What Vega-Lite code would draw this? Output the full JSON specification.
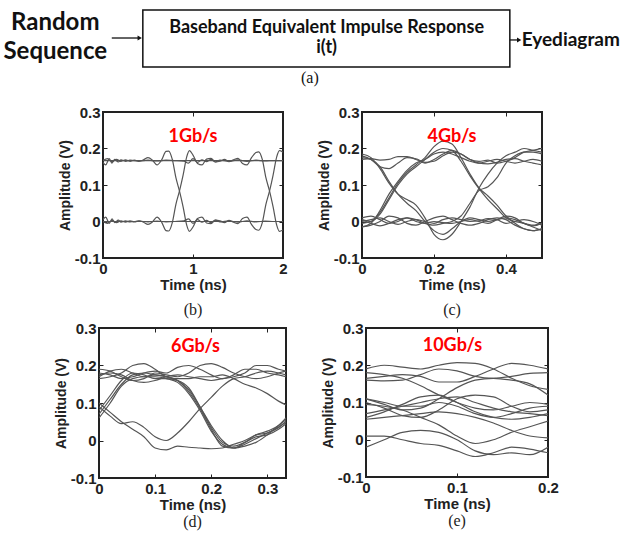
{
"$schema": "https://vega.github.io/schema/vega-lite/v6.json",
"padding": 0,
"background": "white",
"spacing": 1,
"config": {
 "view": {"stroke": "#222", "strokeWidth": 2},
 "axis": {"grid": false, "domain": false, "ticks": true, "tickSize": -4, "tickColor": "#222", "tickWidth": 1, "labelFont": "Liberation Sans", "labelFontSize": 15, "labelFontWeight": "bold", "labelColor": "#222", "labelPadding": 7, "titleFont": "Liberation Sans", "titleFontSize": 15, "titleFontWeight": "bold", "titleColor": "#222", "labelOverlap": false, "labelFlush": false, "tickCount": 10},
 "axisY": {"titleFontSize": 14, "titlePadding": 2},
 "axisX": {"titlePadding": 1},
 "title": {"font": "Liberation Serif", "fontSize": 16, "fontWeight": "normal", "color": "#222", "anchor": "middle"}
},
"datasets": {
 "b": [
{"s":"b1","t":0,"v":0.167},{"s":"b1","t":0.05,"v":0.172},{"s":"b1","t":0.1,"v":0.164},{"s":"b1","t":0.15,"v":0.170},{"s":"b1","t":0.2,"v":0.165},{"s":"b1","t":0.25,"v":0.169},{"s":"b1","t":0.3,"v":0.165},{"s":"b1","t":0.35,"v":0.168},{"s":"b1","t":0.4,"v":0.165},{"s":"b1","t":0.45,"v":0.169},{"s":"b1","t":0.5,"v":0.175},{"s":"b1","t":0.55,"v":0.168},{"s":"b1","t":0.6,"v":0.155},{"s":"b1","t":0.65,"v":0.168},{"s":"b1","t":0.7,"v":0.192},{"s":"b1","t":0.73,"v":0.193},{"s":"b1","t":0.77,"v":0.170},{"s":"b1","t":0.81,"v":0.120},{"s":"b1","t":0.85,"v":0.083},{"s":"b1","t":0.89,"v":0.040},{"s":"b1","t":0.93,"v":-0.010},{"s":"b1","t":0.96,"v":-0.027},{"s":"b1","t":1.0,"v":-0.015},{"s":"b1","t":1.05,"v":0.008},{"s":"b1","t":1.1,"v":0.012},{"s":"b1","t":1.15,"v":-0.004},{"s":"b1","t":1.2,"v":-0.006},{"s":"b1","t":1.25,"v":0.004},{"s":"b1","t":1.3,"v":0.002},{"s":"b1","t":1.35,"v":-0.003},{"s":"b1","t":1.4,"v":0.003},{"s":"b1","t":1.45,"v":-0.002},{"s":"b1","t":1.5,"v":-0.006},{"s":"b1","t":1.55,"v":0.008},{"s":"b1","t":1.6,"v":0.012},{"s":"b1","t":1.65,"v":-0.008},{"s":"b1","t":1.7,"v":-0.022},{"s":"b1","t":1.73,"v":-0.024},{"s":"b1","t":1.77,"v":-0.003},{"s":"b1","t":1.81,"v":0.047},{"s":"b1","t":1.85,"v":0.083},{"s":"b1","t":1.89,"v":0.127},{"s":"b1","t":1.93,"v":0.177},{"s":"b1","t":1.96,"v":0.194},{"s":"b1","t":2.0,"v":0.19},
{"s":"b2","t":0,"v":0.0},{"s":"b2","t":0.05,"v":-0.005},{"s":"b2","t":0.1,"v":0.003},{"s":"b2","t":0.15,"v":-0.003},{"s":"b2","t":0.2,"v":0.002},{"s":"b2","t":0.25,"v":-0.002},{"s":"b2","t":0.3,"v":0.002},{"s":"b2","t":0.35,"v":-0.001},{"s":"b2","t":0.4,"v":0.002},{"s":"b2","t":0.45,"v":-0.002},{"s":"b2","t":0.5,"v":-0.008},{"s":"b2","t":0.55,"v":-0.001},{"s":"b2","t":0.6,"v":0.012},{"s":"b2","t":0.65,"v":-0.001},{"s":"b2","t":0.7,"v":-0.025},{"s":"b2","t":0.73,"v":-0.026},{"s":"b2","t":0.77,"v":-0.003},{"s":"b2","t":0.81,"v":0.047},{"s":"b2","t":0.85,"v":0.084},{"s":"b2","t":0.89,"v":0.127},{"s":"b2","t":0.93,"v":0.177},{"s":"b2","t":0.96,"v":0.194},{"s":"b2","t":1.0,"v":0.182},{"s":"b2","t":1.05,"v":0.159},{"s":"b2","t":1.1,"v":0.155},{"s":"b2","t":1.15,"v":0.171},{"s":"b2","t":1.2,"v":0.173},{"s":"b2","t":1.25,"v":0.163},{"s":"b2","t":1.3,"v":0.165},{"s":"b2","t":1.35,"v":0.170},{"s":"b2","t":1.4,"v":0.164},{"s":"b2","t":1.45,"v":0.169},{"s":"b2","t":1.5,"v":0.173},{"s":"b2","t":1.55,"v":0.159},{"s":"b2","t":1.6,"v":0.155},{"s":"b2","t":1.65,"v":0.175},{"s":"b2","t":1.7,"v":0.189},{"s":"b2","t":1.73,"v":0.191},{"s":"b2","t":1.77,"v":0.170},{"s":"b2","t":1.81,"v":0.120},{"s":"b2","t":1.85,"v":0.084},{"s":"b2","t":1.89,"v":0.040},{"s":"b2","t":1.93,"v":-0.010},{"s":"b2","t":1.96,"v":-0.027},{"s":"b2","t":2.0,"v":-0.023},
{"s":"b3","t":0,"v":0.167},{"s":"b3","t":2,"v":0.167},
{"s":"b4","t":0,"v":0.0},{"s":"b4","t":2,"v":0.0},
{"s":"b5","t":0,"v":0.162},{"s":"b5","t":0.03,"v":0.155},{"s":"b5","t":0.07,"v":0.172},{"s":"b5","t":0.1,"v":0.160},{"s":"b5","t":0.13,"v":0.170},{"s":"b5","t":0.17,"v":0.163},{"s":"b5","t":0.2,"v":0.169},{"s":"b5","t":0.25,"v":0.165},{"s":"b5","t":0.3,"v":0.168},{"s":"b5","t":0.4,"v":0.166},{"s":"b5","t":0.5,"v":0.168},{"s":"b5","t":0.6,"v":0.166},{"s":"b5","t":0.7,"v":0.168},{"s":"b5","t":0.8,"v":0.167},{"s":"b5","t":0.9,"v":0.165},{"s":"b5","t":0.95,"v":0.160},{"s":"b5","t":1.0,"v":0.172},{"s":"b5","t":1.05,"v":0.162},{"s":"b5","t":1.1,"v":0.169},{"s":"b5","t":1.15,"v":0.164},{"s":"b5","t":1.2,"v":0.170},{"s":"b5","t":1.25,"v":0.163},{"s":"b5","t":1.3,"v":0.168},{"s":"b5","t":1.4,"v":0.165},{"s":"b5","t":1.5,"v":0.169},{"s":"b5","t":1.6,"v":0.165},{"s":"b5","t":1.7,"v":0.168},{"s":"b5","t":1.8,"v":0.166},{"s":"b5","t":1.9,"v":0.167},{"s":"b5","t":2.0,"v":0.167},
{"s":"b6","t":0,"v":0.005},{"s":"b6","t":0.03,"v":0.012},{"s":"b6","t":0.07,"v":-0.005},{"s":"b6","t":0.1,"v":0.007},{"s":"b6","t":0.13,"v":-0.003},{"s":"b6","t":0.17,"v":0.004},{"s":"b6","t":0.2,"v":-0.002},{"s":"b6","t":0.25,"v":0.002},{"s":"b6","t":0.3,"v":-0.001},{"s":"b6","t":0.4,"v":0.001},{"s":"b6","t":0.5,"v":-0.001},{"s":"b6","t":0.6,"v":0.001},{"s":"b6","t":0.7,"v":-0.001},{"s":"b6","t":0.8,"v":0.0},{"s":"b6","t":0.9,"v":0.002},{"s":"b6","t":0.95,"v":0.007},{"s":"b6","t":1.0,"v":-0.005},{"s":"b6","t":1.05,"v":0.005},{"s":"b6","t":1.1,"v":-0.002},{"s":"b6","t":1.15,"v":0.003},{"s":"b6","t":1.2,"v":-0.003},{"s":"b6","t":1.25,"v":0.004},{"s":"b6","t":1.3,"v":-0.001},{"s":"b6","t":1.4,"v":0.002},{"s":"b6","t":1.5,"v":-0.002},{"s":"b6","t":1.6,"v":0.002},{"s":"b6","t":1.7,"v":-0.001},{"s":"b6","t":1.8,"v":0.001},{"s":"b6","t":1.9,"v":0.0},{"s":"b6","t":2.0,"v":0.0}
 ],
 "c": [
{"s":"c1","t":0,"v":-0.005},{"s":"c1","t":0.025,"v":0.0},{"s":"c1","t":0.05,"v":0.025},{"s":"c1","t":0.075,"v":0.065},{"s":"c1","t":0.1,"v":0.105},{"s":"c1","t":0.125,"v":0.135},{"s":"c1","t":0.15,"v":0.155},{"s":"c1","t":0.175,"v":0.175},{"s":"c1","t":0.2,"v":0.205},{"s":"c1","t":0.225,"v":0.22},{"s":"c1","t":0.25,"v":0.212},{"s":"c1","t":0.275,"v":0.175},{"s":"c1","t":0.3,"v":0.13},{"s":"c1","t":0.325,"v":0.092},{"s":"c1","t":0.35,"v":0.07},{"s":"c1","t":0.375,"v":0.045},{"s":"c1","t":0.4,"v":0.015},{"s":"c1","t":0.425,"v":-0.005},{"s":"c1","t":0.45,"v":-0.02},{"s":"c1","t":0.475,"v":-0.025},{"s":"c1","t":0.5,"v":-0.02},
{"s":"c2","t":0,"v":0.005},{"s":"c2","t":0.025,"v":0.0},{"s":"c2","t":0.05,"v":0.02},{"s":"c2","t":0.075,"v":0.06},{"s":"c2","t":0.1,"v":0.1},{"s":"c2","t":0.125,"v":0.13},{"s":"c2","t":0.15,"v":0.15},{"s":"c2","t":0.175,"v":0.17},{"s":"c2","t":0.2,"v":0.19},{"s":"c2","t":0.225,"v":0.2},{"s":"c2","t":0.25,"v":0.195},{"s":"c2","t":0.275,"v":0.165},{"s":"c2","t":0.3,"v":0.125},{"s":"c2","t":0.325,"v":0.09},{"s":"c2","t":0.35,"v":0.06},{"s":"c2","t":0.375,"v":0.035},{"s":"c2","t":0.4,"v":0.01},{"s":"c2","t":0.425,"v":0.0},{"s":"c2","t":0.45,"v":-0.005},{"s":"c2","t":0.475,"v":-0.015},{"s":"c2","t":0.5,"v":-0.025},
{"s":"c3","t":0,"v":-0.015},{"s":"c3","t":0.025,"v":-0.005},{"s":"c3","t":0.05,"v":0.03},{"s":"c3","t":0.075,"v":0.075},{"s":"c3","t":0.1,"v":0.11},{"s":"c3","t":0.125,"v":0.14},{"s":"c3","t":0.15,"v":0.16},{"s":"c3","t":0.175,"v":0.17},{"s":"c3","t":0.2,"v":0.185},{"s":"c3","t":0.225,"v":0.19},{"s":"c3","t":0.25,"v":0.185},{"s":"c3","t":0.275,"v":0.175},{"s":"c3","t":0.3,"v":0.165},{"s":"c3","t":0.325,"v":0.16},{"s":"c3","t":0.35,"v":0.165},{"s":"c3","t":0.375,"v":0.17},{"s":"c3","t":0.4,"v":0.165},{"s":"c3","t":0.425,"v":0.16},{"s":"c3","t":0.45,"v":0.165},{"s":"c3","t":0.475,"v":0.17},{"s":"c3","t":0.5,"v":0.165},
{"s":"c4","t":0,"v":0.185},{"s":"c4","t":0.025,"v":0.175},{"s":"c4","t":0.05,"v":0.145},{"s":"c4","t":0.075,"v":0.105},{"s":"c4","t":0.1,"v":0.075},{"s":"c4","t":0.125,"v":0.06},{"s":"c4","t":0.15,"v":0.045},{"s":"c4","t":0.175,"v":0.01},{"s":"c4","t":0.2,"v":-0.035},{"s":"c4","t":0.225,"v":-0.05},{"s":"c4","t":0.25,"v":-0.035},{"s":"c4","t":0.275,"v":0.0},{"s":"c4","t":0.3,"v":0.04},{"s":"c4","t":0.325,"v":0.092},{"s":"c4","t":0.35,"v":0.13},{"s":"c4","t":0.375,"v":0.16},{"s":"c4","t":0.4,"v":0.18},{"s":"c4","t":0.425,"v":0.19},{"s":"c4","t":0.45,"v":0.2},{"s":"c4","t":0.475,"v":0.195},{"s":"c4","t":0.5,"v":0.19},
{"s":"c5","t":0,"v":0.175},{"s":"c5","t":0.025,"v":0.17},{"s":"c5","t":0.05,"v":0.15},{"s":"c5","t":0.075,"v":0.11},{"s":"c5","t":0.1,"v":0.075},{"s":"c5","t":0.125,"v":0.05},{"s":"c5","t":0.15,"v":0.03},{"s":"c5","t":0.175,"v":0.0},{"s":"c5","t":0.2,"v":-0.025},{"s":"c5","t":0.225,"v":-0.035},{"s":"c5","t":0.25,"v":-0.02},{"s":"c5","t":0.275,"v":0.0},{"s":"c5","t":0.3,"v":0.01},{"s":"c5","t":0.325,"v":0.005},{"s":"c5","t":0.35,"v":0.0},{"s":"c5","t":0.375,"v":0.005},{"s":"c5","t":0.4,"v":0.01},{"s":"c5","t":0.425,"v":0.005},{"s":"c5","t":0.45,"v":-0.005},{"s":"c5","t":0.475,"v":-0.01},{"s":"c5","t":0.5,"v":-0.005},
{"s":"c6","t":0,"v":0.18},{"s":"c6","t":0.025,"v":0.17},{"s":"c6","t":0.05,"v":0.15},{"s":"c6","t":0.075,"v":0.145},{"s":"c6","t":0.1,"v":0.16},{"s":"c6","t":0.125,"v":0.175},{"s":"c6","t":0.15,"v":0.172},{"s":"c6","t":0.175,"v":0.162},{"s":"c6","t":0.2,"v":0.165},{"s":"c6","t":0.225,"v":0.18},{"s":"c6","t":0.25,"v":0.19},{"s":"c6","t":0.275,"v":0.185},{"s":"c6","t":0.3,"v":0.17},{"s":"c6","t":0.325,"v":0.16},{"s":"c6","t":0.35,"v":0.158},{"s":"c6","t":0.375,"v":0.162},{"s":"c6","t":0.4,"v":0.17},{"s":"c6","t":0.425,"v":0.172},{"s":"c6","t":0.45,"v":0.165},{"s":"c6","t":0.475,"v":0.16},{"s":"c6","t":0.5,"v":0.155},
{"s":"c7","t":0,"v":0.17},{"s":"c7","t":0.025,"v":0.172},{"s":"c7","t":0.05,"v":0.168},{"s":"c7","t":0.075,"v":0.17},{"s":"c7","t":0.1,"v":0.178},{"s":"c7","t":0.125,"v":0.178},{"s":"c7","t":0.15,"v":0.17},{"s":"c7","t":0.175,"v":0.16},{"s":"c7","t":0.2,"v":0.17},{"s":"c7","t":0.225,"v":0.185},{"s":"c7","t":0.25,"v":0.195},{"s":"c7","t":0.275,"v":0.185},{"s":"c7","t":0.3,"v":0.17},{"s":"c7","t":0.325,"v":0.165},{"s":"c7","t":0.35,"v":0.168},{"s":"c7","t":0.375,"v":0.16},{"s":"c7","t":0.4,"v":0.165},{"s":"c7","t":0.425,"v":0.175},{"s":"c7","t":0.45,"v":0.19},{"s":"c7","t":0.475,"v":0.195},{"s":"c7","t":0.5,"v":0.2},
{"s":"c8","t":0,"v":0.0},{"s":"c8","t":0.025,"v":0.005},{"s":"c8","t":0.05,"v":0.01},{"s":"c8","t":0.075,"v":0.0},{"s":"c8","t":0.1,"v":-0.008},{"s":"c8","t":0.125,"v":0.0},{"s":"c8","t":0.15,"v":0.005},{"s":"c8","t":0.175,"v":0.0},{"s":"c8","t":0.2,"v":-0.005},{"s":"c8","t":0.225,"v":0.005},{"s":"c8","t":0.25,"v":0.01},{"s":"c8","t":0.275,"v":0.005},{"s":"c8","t":0.3,"v":0.0},{"s":"c8","t":0.325,"v":0.002},{"s":"c8","t":0.35,"v":0.008},{"s":"c8","t":0.375,"v":0.005},{"s":"c8","t":0.4,"v":-0.005},{"s":"c8","t":0.425,"v":0.0},{"s":"c8","t":0.45,"v":0.005},{"s":"c8","t":0.475,"v":0.0},{"s":"c8","t":0.5,"v":-0.01},
{"s":"c9","t":0,"v":-0.015},{"s":"c9","t":0.025,"v":-0.01},{"s":"c9","t":0.05,"v":0.0},{"s":"c9","t":0.075,"v":0.015},{"s":"c9","t":0.1,"v":0.01},{"s":"c9","t":0.125,"v":-0.005},{"s":"c9","t":0.15,"v":-0.01},{"s":"c9","t":0.175,"v":0.0},{"s":"c9","t":0.2,"v":0.01},{"s":"c9","t":0.225,"v":0.015},{"s":"c9","t":0.25,"v":0.005},{"s":"c9","t":0.275,"v":-0.005},{"s":"c9","t":0.3,"v":-0.01},{"s":"c9","t":0.325,"v":-0.005},{"s":"c9","t":0.35,"v":0.005},{"s":"c9","t":0.375,"v":0.01},{"s":"c9","t":0.4,"v":0.005},{"s":"c9","t":0.425,"v":-0.01},{"s":"c9","t":0.45,"v":-0.02},{"s":"c9","t":0.475,"v":-0.025},{"s":"c9","t":0.5,"v":-0.02},
{"s":"c10","t":0,"v":0.005},{"s":"c10","t":0.025,"v":-0.005},{"s":"c10","t":0.05,"v":-0.012},{"s":"c10","t":0.075,"v":-0.005},{"s":"c10","t":0.1,"v":0.005},{"s":"c10","t":0.125,"v":0.01},{"s":"c10","t":0.15,"v":0.0},{"s":"c10","t":0.175,"v":-0.005},{"s":"c10","t":0.2,"v":0.0},{"s":"c10","t":0.225,"v":-0.003},{"s":"c10","t":0.25,"v":-0.005},{"s":"c10","t":0.275,"v":0.0},{"s":"c10","t":0.3,"v":0.005},{"s":"c10","t":0.325,"v":0.0},{"s":"c10","t":0.35,"v":-0.005},{"s":"c10","t":0.375,"v":0.005},{"s":"c10","t":0.4,"v":0.015},{"s":"c10","t":0.425,"v":0.01},{"s":"c10","t":0.45,"v":-0.005},{"s":"c10","t":0.475,"v":-0.012},{"s":"c10","t":0.5,"v":-0.005},
{"s":"c11","t":0,"v":0.01},{"s":"c11","t":0.025,"v":0.015},{"s":"c11","t":0.05,"v":0.005},{"s":"c11","t":0.075,"v":-0.005},{"s":"c11","t":0.1,"v":0.0},{"s":"c11","t":0.125,"v":0.01},{"s":"c11","t":0.15,"v":0.005},{"s":"c11","t":0.175,"v":-0.005},{"s":"c11","t":0.2,"v":-0.01},{"s":"c11","t":0.225,"v":-0.005},{"s":"c11","t":0.25,"v":0.0},{"s":"c11","t":0.275,"v":0.015},{"s":"c11","t":0.3,"v":0.05},{"s":"c11","t":0.325,"v":0.085},{"s":"c11","t":0.35,"v":0.095},{"s":"c11","t":0.375,"v":0.12},{"s":"c11","t":0.4,"v":0.16},{"s":"c11","t":0.425,"v":0.18},{"s":"c11","t":0.45,"v":0.19},{"s":"c11","t":0.475,"v":0.19},{"s":"c11","t":0.5,"v":0.185}
 ],
 "d": [
{"s":"d1","t":0,"v":0.07},{"s":"d1","t":0.02,"v":0.11},{"s":"d1","t":0.04,"v":0.15},{"s":"d1","t":0.06,"v":0.175},{"s":"d1","t":0.08,"v":0.18},{"s":"d1","t":0.1,"v":0.175},{"s":"d1","t":0.12,"v":0.17},{"s":"d1","t":0.14,"v":0.16},{"s":"d1","t":0.16,"v":0.13},{"s":"d1","t":0.18,"v":0.085},{"s":"d1","t":0.2,"v":0.03},{"s":"d1","t":0.22,"v":-0.015},{"s":"d1","t":0.24,"v":-0.02},{"s":"d1","t":0.26,"v":-0.01},{"s":"d1","t":0.28,"v":0.005},{"s":"d1","t":0.3,"v":0.02},{"s":"d1","t":0.32,"v":0.035},{"s":"d1","t":0.3333,"v":0.05},
{"s":"d2","t":0,"v":0.06},{"s":"d2","t":0.02,"v":0.1},{"s":"d2","t":0.04,"v":0.145},{"s":"d2","t":0.06,"v":0.165},{"s":"d2","t":0.08,"v":0.17},{"s":"d2","t":0.1,"v":0.17},{"s":"d2","t":0.12,"v":0.165},{"s":"d2","t":0.14,"v":0.155},{"s":"d2","t":0.16,"v":0.125},{"s":"d2","t":0.18,"v":0.08},{"s":"d2","t":0.2,"v":0.025},{"s":"d2","t":0.22,"v":-0.01},{"s":"d2","t":0.24,"v":-0.02},{"s":"d2","t":0.26,"v":-0.005},{"s":"d2","t":0.28,"v":0.01},{"s":"d2","t":0.3,"v":0.015},{"s":"d2","t":0.32,"v":0.03},{"s":"d2","t":0.3333,"v":0.045},
{"s":"d3","t":0,"v":0.08},{"s":"d3","t":0.02,"v":0.12},{"s":"d3","t":0.04,"v":0.16},{"s":"d3","t":0.06,"v":0.18},{"s":"d3","t":0.08,"v":0.175},{"s":"d3","t":0.1,"v":0.165},{"s":"d3","t":0.12,"v":0.165},{"s":"d3","t":0.14,"v":0.16},{"s":"d3","t":0.16,"v":0.14},{"s":"d3","t":0.18,"v":0.09},{"s":"d3","t":0.2,"v":0.035},{"s":"d3","t":0.22,"v":-0.005},{"s":"d3","t":0.24,"v":-0.015},{"s":"d3","t":0.26,"v":-0.005},{"s":"d3","t":0.28,"v":0.015},{"s":"d3","t":0.3,"v":0.025},{"s":"d3","t":0.32,"v":0.04},{"s":"d3","t":0.3333,"v":0.06},
{"s":"d4","t":0,"v":0.17},{"s":"d4","t":0.02,"v":0.185},{"s":"d4","t":0.04,"v":0.19},{"s":"d4","t":0.06,"v":0.18},{"s":"d4","t":0.08,"v":0.17},{"s":"d4","t":0.1,"v":0.175},{"s":"d4","t":0.12,"v":0.17},{"s":"d4","t":0.14,"v":0.16},{"s":"d4","t":0.16,"v":0.135},{"s":"d4","t":0.18,"v":0.09},{"s":"d4","t":0.2,"v":0.04},{"s":"d4","t":0.22,"v":0.0},{"s":"d4","t":0.24,"v":-0.02},{"s":"d4","t":0.26,"v":-0.015},{"s":"d4","t":0.28,"v":-0.005},{"s":"d4","t":0.3,"v":0.015},{"s":"d4","t":0.32,"v":0.04},{"s":"d4","t":0.3333,"v":0.055},
{"s":"d5","t":0,"v":0.09},{"s":"d5","t":0.02,"v":0.065},{"s":"d5","t":0.04,"v":0.045},{"s":"d5","t":0.06,"v":0.05},{"s":"d5","t":0.08,"v":0.035},{"s":"d5","t":0.1,"v":0.01},{"s":"d5","t":0.12,"v":0.0},{"s":"d5","t":0.14,"v":0.02},{"s":"d5","t":0.16,"v":0.05},{"s":"d5","t":0.18,"v":0.085},{"s":"d5","t":0.2,"v":0.115},{"s":"d5","t":0.22,"v":0.145},{"s":"d5","t":0.24,"v":0.165},{"s":"d5","t":0.26,"v":0.17},{"s":"d5","t":0.28,"v":0.18},{"s":"d5","t":0.3,"v":0.185},{"s":"d5","t":0.32,"v":0.18},{"s":"d5","t":0.3333,"v":0.175},
{"s":"d6","t":0,"v":0.1},{"s":"d6","t":0.02,"v":0.075},{"s":"d6","t":0.04,"v":0.05},{"s":"d6","t":0.06,"v":0.03},{"s":"d6","t":0.08,"v":0.01},{"s":"d6","t":0.1,"v":-0.02},{"s":"d6","t":0.12,"v":-0.025},{"s":"d6","t":0.14,"v":-0.015},{"s":"d6","t":0.16,"v":-0.018},{"s":"d6","t":0.18,"v":-0.02},{"s":"d6","t":0.2,"v":-0.022},{"s":"d6","t":0.22,"v":-0.02},{"s":"d6","t":0.24,"v":-0.01},{"s":"d6","t":0.26,"v":0.0},{"s":"d6","t":0.28,"v":0.015},{"s":"d6","t":0.3,"v":0.02},{"s":"d6","t":0.32,"v":0.035},{"s":"d6","t":0.3333,"v":0.05},
{"s":"d7","t":0,"v":0.19},{"s":"d7","t":0.02,"v":0.185},{"s":"d7","t":0.04,"v":0.17},{"s":"d7","t":0.06,"v":0.16},{"s":"d7","t":0.08,"v":0.165},{"s":"d7","t":0.1,"v":0.18},{"s":"d7","t":0.12,"v":0.175},{"s":"d7","t":0.14,"v":0.17},{"s":"d7","t":0.16,"v":0.18},{"s":"d7","t":0.18,"v":0.2},{"s":"d7","t":0.2,"v":0.205},{"s":"d7","t":0.22,"v":0.195},{"s":"d7","t":0.24,"v":0.18},{"s":"d7","t":0.26,"v":0.17},{"s":"d7","t":0.28,"v":0.165},{"s":"d7","t":0.3,"v":0.17},{"s":"d7","t":0.32,"v":0.18},{"s":"d7","t":0.3333,"v":0.185},
{"s":"d8","t":0,"v":0.18},{"s":"d8","t":0.02,"v":0.175},{"s":"d8","t":0.04,"v":0.165},{"s":"d8","t":0.06,"v":0.17},{"s":"d8","t":0.08,"v":0.18},{"s":"d8","t":0.1,"v":0.185},{"s":"d8","t":0.12,"v":0.18},{"s":"d8","t":0.14,"v":0.195},{"s":"d8","t":0.16,"v":0.2},{"s":"d8","t":0.18,"v":0.19},{"s":"d8","t":0.2,"v":0.175},{"s":"d8","t":0.22,"v":0.165},{"s":"d8","t":0.24,"v":0.175},{"s":"d8","t":0.26,"v":0.19},{"s":"d8","t":0.28,"v":0.19},{"s":"d8","t":0.3,"v":0.18},{"s":"d8","t":0.32,"v":0.175},{"s":"d8","t":0.3333,"v":0.17},
{"s":"d9","t":0,"v":0.165},{"s":"d9","t":0.02,"v":0.17},{"s":"d9","t":0.04,"v":0.18},{"s":"d9","t":0.06,"v":0.2},{"s":"d9","t":0.08,"v":0.205},{"s":"d9","t":0.1,"v":0.19},{"s":"d9","t":0.12,"v":0.17},{"s":"d9","t":0.14,"v":0.165},{"s":"d9","t":0.16,"v":0.165},{"s":"d9","t":0.18,"v":0.17},{"s":"d9","t":0.2,"v":0.17},{"s":"d9","t":0.22,"v":0.175},{"s":"d9","t":0.24,"v":0.165},{"s":"d9","t":0.26,"v":0.15},{"s":"d9","t":0.28,"v":0.14},{"s":"d9","t":0.3,"v":0.125},{"s":"d9","t":0.32,"v":0.105},{"s":"d9","t":0.3333,"v":0.095},
{"s":"d10","t":0,"v":0.175},{"s":"d10","t":0.02,"v":0.18},{"s":"d10","t":0.04,"v":0.175},{"s":"d10","t":0.06,"v":0.16},{"s":"d10","t":0.08,"v":0.155},{"s":"d10","t":0.1,"v":0.16},{"s":"d10","t":0.12,"v":0.17},{"s":"d10","t":0.14,"v":0.175},{"s":"d10","t":0.16,"v":0.17},{"s":"d10","t":0.18,"v":0.165},{"s":"d10","t":0.2,"v":0.16},{"s":"d10","t":0.22,"v":0.165},{"s":"d10","t":0.24,"v":0.17},{"s":"d10","t":0.26,"v":0.18},{"s":"d10","t":0.28,"v":0.2},{"s":"d10","t":0.3,"v":0.2},{"s":"d10","t":0.32,"v":0.19},{"s":"d10","t":0.3333,"v":0.185}
 ],
 "e": [
{"s":"e1","t":0,"v":0.19},{"s":"e1","t":0.02,"v":0.2},{"s":"e1","t":0.04,"v":0.195},{"s":"e1","t":0.06,"v":0.19},{"s":"e1","t":0.08,"v":0.2},{"s":"e1","t":0.1,"v":0.207},{"s":"e1","t":0.12,"v":0.205},{"s":"e1","t":0.14,"v":0.19},{"s":"e1","t":0.16,"v":0.165},{"s":"e1","t":0.18,"v":0.145},{"s":"e1","t":0.2,"v":0.135},
{"s":"e2","t":0,"v":0.18},{"s":"e2","t":0.02,"v":0.175},{"s":"e2","t":0.04,"v":0.165},{"s":"e2","t":0.06,"v":0.145},{"s":"e2","t":0.08,"v":0.12},{"s":"e2","t":0.1,"v":0.1},{"s":"e2","t":0.12,"v":0.085},{"s":"e2","t":0.14,"v":0.08},{"s":"e2","t":0.16,"v":0.09},{"s":"e2","t":0.18,"v":0.1},{"s":"e2","t":0.2,"v":0.095},
{"s":"e3","t":0,"v":0.16},{"s":"e3","t":0.02,"v":0.158},{"s":"e3","t":0.04,"v":0.16},{"s":"e3","t":0.06,"v":0.175},{"s":"e3","t":0.08,"v":0.19},{"s":"e3","t":0.1,"v":0.185},{"s":"e3","t":0.12,"v":0.17},{"s":"e3","t":0.14,"v":0.165},{"s":"e3","t":0.16,"v":0.17},{"s":"e3","t":0.18,"v":0.178},{"s":"e3","t":0.2,"v":0.18},
{"s":"e4","t":0,"v":0.165},{"s":"e4","t":0.02,"v":0.17},{"s":"e4","t":0.04,"v":0.175},{"s":"e4","t":0.06,"v":0.17},{"s":"e4","t":0.08,"v":0.155},{"s":"e4","t":0.1,"v":0.155},{"s":"e4","t":0.12,"v":0.17},{"s":"e4","t":0.14,"v":0.19},{"s":"e4","t":0.16,"v":0.205},{"s":"e4","t":0.18,"v":0.2},{"s":"e4","t":0.2,"v":0.19},
{"s":"e5","t":0,"v":0.11},{"s":"e5","t":0.02,"v":0.095},{"s":"e5","t":0.04,"v":0.08},{"s":"e5","t":0.06,"v":0.085},{"s":"e5","t":0.08,"v":0.11},{"s":"e5","t":0.1,"v":0.14},{"s":"e5","t":0.12,"v":0.16},{"s":"e5","t":0.14,"v":0.165},{"s":"e5","t":0.16,"v":0.16},{"s":"e5","t":0.18,"v":0.15},{"s":"e5","t":0.2,"v":0.12},
{"s":"e6","t":0,"v":0.1},{"s":"e6","t":0.02,"v":0.085},{"s":"e6","t":0.04,"v":0.065},{"s":"e6","t":0.06,"v":0.06},{"s":"e6","t":0.08,"v":0.08},{"s":"e6","t":0.1,"v":0.11},{"s":"e6","t":0.12,"v":0.12},{"s":"e6","t":0.14,"v":0.115},{"s":"e6","t":0.16,"v":0.09},{"s":"e6","t":0.18,"v":0.075},{"s":"e6","t":0.2,"v":0.08},
{"s":"e7","t":0,"v":0.07},{"s":"e7","t":0.02,"v":0.08},{"s":"e7","t":0.04,"v":0.09},{"s":"e7","t":0.06,"v":0.1},{"s":"e7","t":0.08,"v":0.11},{"s":"e7","t":0.1,"v":0.115},{"s":"e7","t":0.12,"v":0.1},{"s":"e7","t":0.14,"v":0.085},{"s":"e7","t":0.16,"v":0.075},{"s":"e7","t":0.18,"v":0.07},{"s":"e7","t":0.2,"v":0.065},
{"s":"e8","t":0,"v":0.06},{"s":"e8","t":0.02,"v":0.075},{"s":"e8","t":0.04,"v":0.095},{"s":"e8","t":0.06,"v":0.115},{"s":"e8","t":0.08,"v":0.12},{"s":"e8","t":0.1,"v":0.1},{"s":"e8","t":0.12,"v":0.075},{"s":"e8","t":0.14,"v":0.06},{"s":"e8","t":0.16,"v":0.055},{"s":"e8","t":0.18,"v":0.06},{"s":"e8","t":0.2,"v":0.07},
{"s":"e9","t":0,"v":0.055},{"s":"e9","t":0.02,"v":0.06},{"s":"e9","t":0.04,"v":0.065},{"s":"e9","t":0.06,"v":0.07},{"s":"e9","t":0.08,"v":0.075},{"s":"e9","t":0.1,"v":0.07},{"s":"e9","t":0.12,"v":0.06},{"s":"e9","t":0.14,"v":0.045},{"s":"e9","t":0.16,"v":0.025},{"s":"e9","t":0.18,"v":0.01},{"s":"e9","t":0.2,"v":0.005},
{"s":"e10","t":0,"v":0.01},{"s":"e10","t":0.02,"v":0.01},{"s":"e10","t":0.04,"v":0.0},{"s":"e10","t":0.06,"v":-0.01},{"s":"e10","t":0.08,"v":-0.015},{"s":"e10","t":0.1,"v":-0.03},{"s":"e10","t":0.12,"v":-0.045},{"s":"e10","t":0.14,"v":-0.035},{"s":"e10","t":0.16,"v":-0.02},{"s":"e10","t":0.18,"v":-0.025},{"s":"e10","t":0.2,"v":-0.035},
{"s":"e11","t":0,"v":-0.02},{"s":"e11","t":0.02,"v":0.0},{"s":"e11","t":0.04,"v":0.02},{"s":"e11","t":0.06,"v":0.025},{"s":"e11","t":0.08,"v":0.02},{"s":"e11","t":0.1,"v":0.0},{"s":"e11","t":0.12,"v":-0.03},{"s":"e11","t":0.14,"v":-0.04},{"s":"e11","t":0.16,"v":-0.035},{"s":"e11","t":0.18,"v":-0.04},{"s":"e11","t":0.2,"v":-0.02},
{"s":"e12","t":0,"v":0.095},{"s":"e12","t":0.02,"v":0.09},{"s":"e12","t":0.04,"v":0.08},{"s":"e12","t":0.06,"v":0.06},{"s":"e12","t":0.08,"v":0.04},{"s":"e12","t":0.1,"v":0.01},{"s":"e12","t":0.12,"v":-0.01},{"s":"e12","t":0.14,"v":0.0},{"s":"e12","t":0.16,"v":0.02},{"s":"e12","t":0.18,"v":0.035},{"s":"e12","t":0.2,"v":0.05},
{"s":"e13","t":0,"v":0.11},{"s":"e13","t":0.02,"v":0.1},{"s":"e13","t":0.04,"v":0.09},{"s":"e13","t":0.06,"v":0.09},{"s":"e13","t":0.08,"v":0.1},{"s":"e13","t":0.1,"v":0.09},{"s":"e13","t":0.12,"v":0.07},{"s":"e13","t":0.14,"v":0.06},{"s":"e13","t":0.16,"v":0.07},{"s":"e13","t":0.18,"v":0.085},{"s":"e13","t":0.2,"v":0.09}
 ]
},
"vconcat": [
 {
  "width": 621, "height": 103,
  "view": {"stroke": null},
  "layer": [
   {"data": {"values": [{"x": 23.0, "x2": 82.1, "y": 9.7, "y2": 65.0}]},
    "mark": {"type": "rect", "fillOpacity": 0, "stroke": "#111", "strokeWidth": 1.5},
    "encoding": {"x": {"field": "x", "type": "quantitative", "scale": {"domain": [0, 100], "nice": false, "zero": false}, "axis": null}, "x2": {"field": "x2"},
                 "y": {"field": "y", "type": "quantitative", "scale": {"domain": [0, 100], "reverse": true, "nice": false, "zero": false}, "axis": null}, "y2": {"field": "y2"}}},
   {"data": {"values": [{"x": 18.0, "x2": 22.4, "y": 36.9}, {"x": 82.1, "x2": 83.5, "y": 38.8}]},
    "mark": {"type": "rule", "color": "#111", "strokeWidth": 1.3},
    "encoding": {"x": {"field": "x", "type": "quantitative"}, "x2": {"field": "x2"}, "y": {"field": "y", "type": "quantitative"}}},
   {"data": {"values": [{"x": 22.5, "y": 36.9}, {"x": 83.6, "y": 38.8}]},
    "mark": {"type": "point", "shape": "triangle-right", "filled": true, "size": 25, "color": "#111", "opacity": 1},
    "encoding": {"x": {"field": "x", "type": "quantitative"}, "y": {"field": "y", "type": "quantitative"}}},
   {"data": {"values": [{"x": 8.9, "y": 22.5, "s": "Random"}, {"x": 8.9, "y": 50.3, "s": "Sequence"}]},
    "mark": {"type": "text", "font": "Lato", "fontSize": 24, "fontWeight": "bold", "color": "#111", "align": "center", "baseline": "middle"},
    "encoding": {"x": {"field": "x", "type": "quantitative"}, "y": {"field": "y", "type": "quantitative"}, "text": {"field": "s"}}},
   {"data": {"values": [{"x": 84.0, "y": 38.8, "s": "Eyediagram"}]},
    "mark": {"type": "text", "font": "Lato", "fontSize": 19, "fontWeight": "bold", "color": "#111", "align": "left", "baseline": "middle"},
    "encoding": {"x": {"field": "x", "type": "quantitative"}, "y": {"field": "y", "type": "quantitative"}, "text": {"field": "s"}}},
   {"data": {"values": [{"x": 52.6, "y": 27.2, "s": "Baseband Equivalent Impulse Response"}, {"x": 52.6, "y": 46.6, "s": "i(t)"}]},
    "mark": {"type": "text", "font": "Lato", "fontSize": 18, "fontWeight": "bold", "color": "#111", "align": "center", "baseline": "middle"},
    "encoding": {"x": {"field": "x", "type": "quantitative"}, "y": {"field": "y", "type": "quantitative"}, "text": {"field": "s"}}},
   {"data": {"values": [{"x": 49.9, "y": 75.7, "s": "(a)"}]},
    "mark": {"type": "text", "font": "Liberation Serif", "fontSize": 16, "color": "#111", "align": "center", "baseline": "middle"},
    "encoding": {"x": {"field": "x", "type": "quantitative"}, "y": {"field": "y", "type": "quantitative"}, "text": {"field": "s"}}}
  ]
 },
 {
  "spacing": 27,
  "hconcat": [
   {"width": 30, "height": 10, "view": {"stroke": null}, "data": {"values": [{"k": 1}]}, "mark": {"type": "text", "text": ""}},
   {
    "width": 180, "height": 146,
    "title": {"text": "(b)", "orient": "bottom", "offset": 10},
    "resolve": {"axis": {"x": "independent", "y": "independent"}},
    "layer": [
     {"data": {"name": "b"}, "mark": {"type": "line", "interpolate": "monotone", "color": "#555", "strokeWidth": 1.2, "clip": true},
      "encoding": {"x": {"field": "t", "type": "quantitative", "scale": {"domain": [0, 2], "nice": false, "zero": false}, "axis": {"values": [0, 1, 2], "title": "Time (ns)", "labelExpr": "'' + datum.value"}},
                   "y": {"field": "v", "type": "quantitative", "scale": {"domain": [-0.1, 0.3], "nice": false, "zero": false}, "axis": {"values": [-0.1, 0, 0.1, 0.2, 0.3], "title": "Amplitude (V)", "labelExpr": "'' + datum.value"}},
                   "detail": {"field": "s"}}},
     {"data": {"values": [{"t": 1.0, "v": 0.232, "s": "1Gb/s"}]}, "mark": {"type": "text", "color": "#ff0000", "font": "Lato", "fontSize": 18, "fontWeight": "bold"},
      "encoding": {"x": {"field": "t", "type": "quantitative", "axis": {"orient": "top", "values": [0, 1, 2], "labels": false, "title": null}}, "y": {"field": "v", "type": "quantitative", "axis": {"orient": "right", "values": [-0.1, 0, 0.1, 0.2, 0.3], "labels": false, "title": null}}, "text": {"field": "s"}}}
    ]
   },
   {
    "width": 180, "height": 146,
    "title": {"text": "(c)", "orient": "bottom", "offset": 10},
    "resolve": {"axis": {"x": "independent", "y": "independent"}},
    "layer": [
     {"data": {"name": "c"}, "mark": {"type": "line", "interpolate": "monotone", "color": "#555", "strokeWidth": 1.2, "clip": true},
      "encoding": {"x": {"field": "t", "type": "quantitative", "scale": {"domain": [0, 0.5], "nice": false, "zero": false}, "axis": {"values": [0, 0.2, 0.4], "title": "Time (ns)", "labelExpr": "'' + datum.value"}},
                   "y": {"field": "v", "type": "quantitative", "scale": {"domain": [-0.1, 0.3], "nice": false, "zero": false}, "axis": {"values": [-0.1, 0, 0.1, 0.2, 0.3], "title": "Amplitude (V)", "labelExpr": "'' + datum.value"}},
                   "detail": {"field": "s"}}},
     {"data": {"values": [{"t": 0.25, "v": 0.232, "s": "4Gb/s"}]}, "mark": {"type": "text", "color": "#ff0000", "font": "Lato", "fontSize": 18, "fontWeight": "bold"},
      "encoding": {"x": {"field": "t", "type": "quantitative", "axis": {"orient": "top", "values": [0, 0.2, 0.4], "labels": false, "title": null}}, "y": {"field": "v", "type": "quantitative", "axis": {"orient": "right", "values": [-0.1, 0, 0.1, 0.2, 0.3], "labels": false, "title": null}}, "text": {"field": "s"}}}
    ]
   }
  ]
 },
 {
  "spacing": 32,
  "hconcat": [
   {"width": 21, "height": 10, "view": {"stroke": null}, "data": {"values": [{"k": 1}]}, "mark": {"type": "text", "text": ""}},
   {
    "width": 187, "height": 150,
    "title": {"text": "(d)", "orient": "bottom", "offset": 2},
    "resolve": {"axis": {"x": "independent", "y": "independent"}},
    "layer": [
     {"data": {"name": "d"}, "mark": {"type": "line", "interpolate": "monotone", "color": "#555", "strokeWidth": 1.2, "clip": true},
      "encoding": {"x": {"field": "t", "type": "quantitative", "scale": {"domain": [0, 0.3333], "nice": false, "zero": false}, "axis": {"values": [0, 0.1, 0.2, 0.3], "title": "Time (ns)", "labelExpr": "'' + datum.value"}},
                   "y": {"field": "v", "type": "quantitative", "scale": {"domain": [-0.1, 0.3], "nice": false, "zero": false}, "axis": {"values": [-0.1, 0, 0.1, 0.2, 0.3], "title": "Amplitude (V)", "labelExpr": "'' + datum.value"}},
                   "detail": {"field": "s"}}},
     {"data": {"values": [{"t": 0.172, "v": 0.25, "s": "6Gb/s"}]}, "mark": {"type": "text", "color": "#ff0000", "font": "Lato", "fontSize": 18, "fontWeight": "bold"},
      "encoding": {"x": {"field": "t", "type": "quantitative", "axis": {"orient": "top", "values": [0, 0.1, 0.2, 0.3], "labels": false, "title": null}}, "y": {"field": "v", "type": "quantitative", "axis": {"orient": "right", "values": [-0.1, 0, 0.1, 0.2, 0.3], "labels": false, "title": null}}, "text": {"field": "s"}}}
    ]
   },
   {
    "width": 182, "height": 149,
    "title": {"text": "(e)", "orient": "bottom", "offset": 2},
    "resolve": {"axis": {"x": "independent", "y": "independent"}},
    "layer": [
     {"data": {"name": "e"}, "mark": {"type": "line", "interpolate": "monotone", "color": "#555", "strokeWidth": 1.2, "clip": true},
      "encoding": {"x": {"field": "t", "type": "quantitative", "scale": {"domain": [0, 0.2], "nice": false, "zero": false}, "axis": {"values": [0, 0.1, 0.2], "title": "Time (ns)", "labelExpr": "'' + datum.value"}},
                   "y": {"field": "v", "type": "quantitative", "scale": {"domain": [-0.1, 0.3], "nice": false, "zero": false}, "axis": {"values": [-0.1, 0, 0.1, 0.2, 0.3], "title": "Amplitude (V)", "labelExpr": "'' + datum.value"}},
                   "detail": {"field": "s"}}},
     {"data": {"values": [{"t": 0.095, "v": 0.252, "s": "10Gb/s"}]}, "mark": {"type": "text", "color": "#ff0000", "font": "Lato", "fontSize": 18, "fontWeight": "bold"},
      "encoding": {"x": {"field": "t", "type": "quantitative", "axis": {"orient": "top", "values": [0, 0.1, 0.2], "labels": false, "title": null}}, "y": {"field": "v", "type": "quantitative", "axis": {"orient": "right", "values": [-0.1, 0, 0.1, 0.2, 0.3], "labels": false, "title": null}}, "text": {"field": "s"}}}
    ]
   }
  ]
 }
]
}
